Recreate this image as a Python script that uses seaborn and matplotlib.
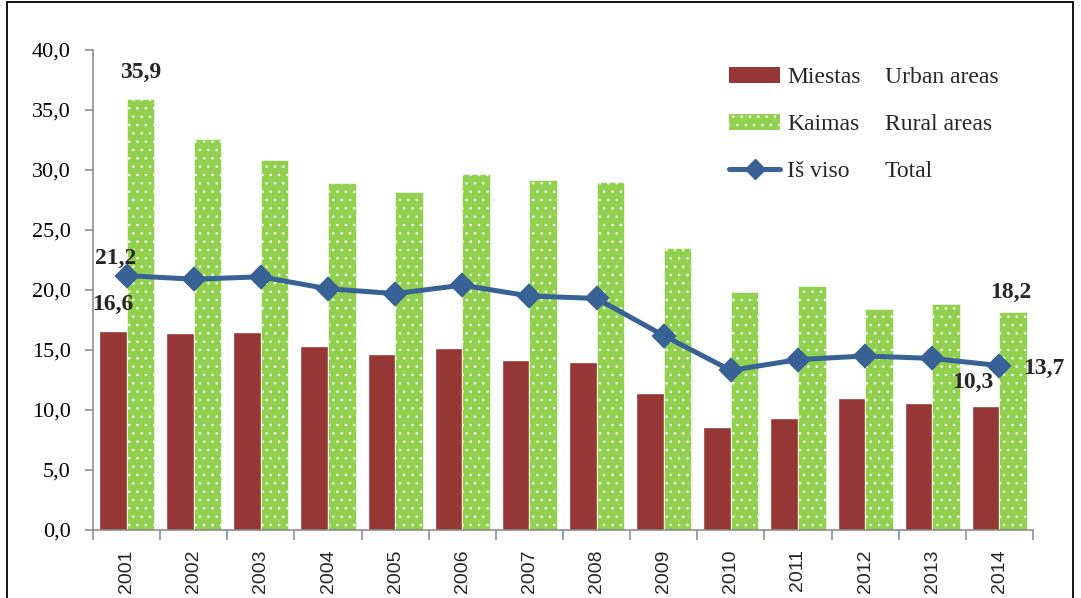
import matplotlib
matplotlib.use("Agg")
import matplotlib.pyplot as plt
from matplotlib.patches import Patch, Rectangle
from matplotlib.lines import Line2D
from matplotlib.ticker import FuncFormatter, FixedLocator
import seaborn as sns
import pandas as pd

years = ['2001', '2002', '2003', '2004', '2005', '2006', '2007',
         '2008', '2009', '2010', '2011', '2012', '2013', '2014']
urban = [16.6, 16.4, 16.5, 15.3, 14.7, 15.2, 14.2, 14.0, 11.4, 8.6, 9.3, 11.0, 10.6, 10.3]
rural = [35.9, 32.6, 30.8, 28.9, 28.2, 29.7, 29.2, 29.0, 23.5, 19.8, 20.3, 18.4, 18.8, 18.2]
total = [21.2, 20.9, 21.1, 20.1, 19.7, 20.4, 19.5, 19.3, 16.2, 13.3, 14.2, 14.5, 14.3, 13.7]

urban_color = '#953735'
rural_color = '#92D050'
total_color = '#386195'

sns.set_style('white')
plt.rcParams['font.family'] = ['Liberation Serif', 'DejaVu Serif']
plt.rcParams['hatch.linewidth'] = 0.6

bars = pd.DataFrame({
    'year': years * 2,
    'value': urban + rural,
    'area': ['Miestas'] * len(years) + ['Kaimas'] * len(years),
})
line = pd.DataFrame({'year': years, 'total': total})

fig = plt.figure(figsize=(10.81, 5.98), dpi=100)
ax = fig.add_axes([93 / 1081, 68 / 598, 940 / 1081, 480 / 598])

sns.barplot(data=bars, x='year', y='value', hue='area', hue_order=['Miestas', 'Kaimas'],
            palette=[urban_color, rural_color], width=0.82, gap=0, saturation=1,
            legend=False, ax=ax)
for bar in ax.containers[1]:
    bar.set_hatch('..')
    bar.set_edgecolor('white')
    bar.set_linewidth(0.4)

sns.pointplot(data=line, x='year', y='total', color=total_color, markers='D',
              markersize=10, linewidth=3.6, errorbar=None, ax=ax)

ax.set_xlim(-0.5, len(years) - 0.5)
ax.set_ylim(0, 40)
ax.set_yticks([0, 5, 10, 15, 20, 25, 30, 35, 40])
ax.yaxis.set_major_formatter(FuncFormatter(lambda v, p: f'{v:.1f}'.replace('.', ',')))
ax.set_xlabel('')
ax.set_ylabel('')

for s in ['top', 'right']:
    ax.spines[s].set_visible(False)
for s in ['left', 'bottom']:
    ax.spines[s].set_color('#868686')
    ax.spines[s].set_linewidth(1.1)

ax.tick_params(axis='y', left=True, length=6, width=1.1, color='#868686',
               pad=10, labelsize=16, labelcolor='black')
ax.tick_params(axis='x', which='major', length=0, pad=14)
ax.xaxis.set_minor_locator(FixedLocator([i - 0.5 for i in range(len(years) + 1)]))
ax.tick_params(axis='x', which='minor', bottom=True, length=7, width=1.1, color='#868686')
for lbl in ax.get_xticklabels():
    lbl.set_rotation(90)
    lbl.set_fontsize(14)
    lbl.set_family(['Liberation Sans', 'DejaVu Sans'])

# data labels
lab = dict(fontsize=17, fontweight='bold', ha='center', va='center',
           textcoords='offset points')
ax.annotate('35,9', xy=(0, rural[0]), xytext=(10, 19), **lab)
ax.annotate('21,2', xy=(0, total[0]), xytext=(-8, 12), **lab)
ax.annotate('16,6', xy=(0, urban[0]), xytext=(-10, 19), **lab)
ax.annotate('18,2', xy=(13, rural[-1]), xytext=(8, 14), **lab)
ax.annotate('13,7', xy=(13, total[-1]), xytext=(32, -2), **lab)
ax.annotate('10,3', xy=(13, urban[-1]), xytext=(-19, 17), **lab)

# legend
handles = [
    Patch(facecolor=urban_color, edgecolor='none'),
    Patch(facecolor=rural_color, edgecolor='white', hatch='..', linewidth=0),
    Line2D([], [], color=total_color, linewidth=3.6, marker='D', markersize=10),
]
ax.legend(handles, ['Miestas', 'Kaimas', 'Iš viso'], loc='upper left',
          bbox_to_anchor=(0.6666, 0.984), frameon=False, fontsize=17,
          handlelength=2.16, handleheight=0.65, handletextpad=0.3, labelspacing=1.08,
          borderaxespad=0)
eng = ['Urban areas', 'Rural areas', 'Total']
for i, t in enumerate(eng):
    ax.text(0.8426, 0.942 - i * 0.098, t, transform=ax.transAxes, fontsize=17,
            va='center', ha='left')

# outer frame
fig.add_artist(Rectangle((7 / 1081, -0.05), 1066 / 1081, 1.05 - 2 / 598,
                         transform=fig.transFigure, fill=False,
                         edgecolor='black', linewidth=1.3, clip_on=False))

fig.savefig('out.png', dpi=100)
